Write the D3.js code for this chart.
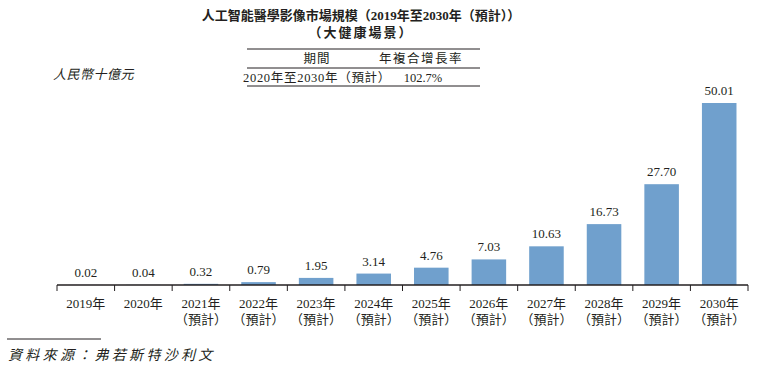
<!DOCTYPE html>
<html>
<meta charset="utf-8">
<script src="https://cdnjs.cloudflare.com/ajax/libs/d3/7.8.5/d3.min.js"></script>
<style>
  body { margin: 0; background: #fff; }
  text { fill: #231f20; }
</style>
<body>
<div id="chart"></div>
<script>

var years = ["2019年", "2020年", "2021年", "2022年", "2023年", "2024年", "2025年", "2026年", "2027年", "2028年", "2029年", "2030年"];
var forecast = [false, false, true, true, true, true, true, true, true, true, true, true];
var values = [0.02, 0.04, 0.32, 0.79, 1.95, 3.14, 4.76, 7.03, 10.63, 16.73, 27.70, 50.01];
var labels = ["0.02", "0.04", "0.32", "0.79", "1.95", "3.14", "4.76", "7.03", "10.63", "16.73", "27.70", "50.01"];
var titleLines = ["人工智能醫學影像市場規模（2019年至2030年（預計））", "（大健康場景）"];
var tableHead = ["期間", "年複合增長率"];
var tableRow = ["2020年至2030年（預計）", "102.7%"];

var serif = "'Liberation Serif', 'Noto Sans CJK TC', serif";
var W = 775, H = 372;
var axisY = 285, left = 57, right = 748;

var svg = d3.select("#chart").append("svg")
    .attr("width", W)
    .attr("height", H)
    .style("font-family", serif);

// title
svg.selectAll(".title")
  .data(titleLines)
  .enter()
  .append("text")
    .attr("x", 361)
    .attr("y", function(d, i) { return 20 + i * 17; })
    .attr("text-anchor", "middle")
    .style("font-size", "13px")
    .style("font-weight", "bold")
    .style("letter-spacing", function(d, i) { return i == 1 ? "2px" : "0px"; })
    .text(function(d) { return d; });

// CAGR table
[49, 68, 86].forEach(function(y) {
  svg.append("line")
    .attr("x1", 247).attr("x2", 480)
    .attr("y1", y).attr("y2", y)
    .attr("stroke", "#231f20")
    .attr("stroke-width", 1);
});
svg.append("text").attr("x", 317).attr("y", 63).attr("text-anchor", "middle")
  .style("font-size", "12.5px").style("letter-spacing", "1px").text(tableHead[0]);
svg.append("text").attr("x", 421).attr("y", 63).attr("text-anchor", "middle")
  .style("font-size", "12.5px").style("letter-spacing", "1.5px").text(tableHead[1]);
svg.append("text").attr("x", 243).attr("y", 82).attr("text-anchor", "start")
  .style("font-size", "12.5px").style("letter-spacing", "0.7px").text(tableRow[0]);
svg.append("text").attr("x", 423).attr("y", 82).attr("text-anchor", "middle")
  .style("font-size", "12.5px").text(tableRow[1]);

// unit
svg.append("text")
  .attr("x", 53).attr("y", 79)
  .style("font-size", "13px")
  .style("font-style", "italic")
  .style("letter-spacing", "0.5px")
  .text("人民幣十億元");

// scales
var x = d3.scaleBand()
  .domain(years)
  .range([left, right])
  .paddingInner(0.4)
  .paddingOuter(0.2);

var y = d3.scaleLinear()
  .domain([0, 50.01])
  .range([axisY, 103]);

// bars
svg.selectAll(".bar")
  .data(values)
  .enter()
  .append("rect")
    .attr("x", function(d, i) { return x(years[i]); })
    .attr("y", function(d) { return y(d); })
    .attr("width", x.bandwidth())
    .attr("height", function(d) { return axisY - y(d); })
    .attr("fill", "#70a0cd");

// value labels
svg.selectAll(".val")
  .data(values)
  .enter()
  .append("text")
    .attr("x", function(d, i) { return x(years[i]) + x.bandwidth() / 2; })
    .attr("y", function(d) { return Math.min(y(d) - 8, 281); })
    .attr("text-anchor", "middle")
    .style("font-size", "13px")
    .text(function(d, i) { return labels[i]; });

// x axis line and ticks at band edges
svg.append("line")
  .attr("x1", left).attr("x2", right)
  .attr("y1", axisY).attr("y2", axisY)
  .attr("stroke", "#231f20")
  .attr("stroke-width", 1.3);

svg.selectAll(".tick")
  .data(d3.range(years.length + 1))
  .enter()
  .append("line")
    .attr("x1", function(i) { return left + i * (right - left) / years.length; })
    .attr("x2", function(i) { return left + i * (right - left) / years.length; })
    .attr("y1", axisY)
    .attr("y2", axisY + 6)
    .attr("stroke", "#231f20")
    .attr("stroke-width", 1);

var catLabels = svg.selectAll(".cat")
  .data(years)
  .enter()
  .append("text")
    .attr("text-anchor", "middle")
    .style("font-size", "13px");
catLabels.append("tspan")
  .attr("x", function(d) { return x(d) + x.bandwidth() / 2; })
  .attr("y", 308)
  .text(function(d) { return d; });
catLabels.filter(function(d, i) { return forecast[i]; })
  .append("tspan")
  .attr("x", function(d) { return x(d) + x.bandwidth() / 2; })
  .attr("y", 324)
  .text("（預計）");

// source
svg.append("line")
  .attr("x1", 7).attr("x2", 101)
  .attr("y1", 339).attr("y2", 339)
  .attr("stroke", "#231f20")
  .attr("stroke-width", 1);
svg.append("text")
  .attr("x", 8).attr("y", 360)
  .style("font-size", "14px")
  .style("font-style", "italic")
  .style("letter-spacing", "3.3px")
  .text("資料來源：弗若斯特沙利文");

</script>
</body>
</html>
